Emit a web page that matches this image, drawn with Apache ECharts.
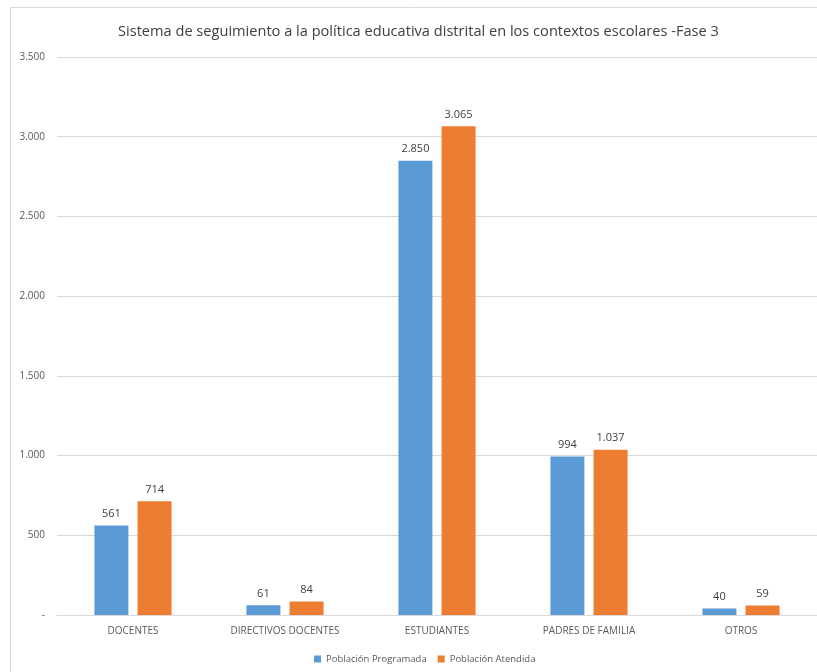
<!DOCTYPE html>
<html><head><meta charset="utf-8">
<script src="https://cdn.jsdelivr.net/npm/echarts@6/dist/echarts.min.js"></script>
<style>html,body{margin:0;padding:0;background:#fff}#c{width:817px;height:672px}</style>
</head><body><div id="c"></div>
<script>
const categories = ['DOCENTES', 'DIRECTIVOS DOCENTES', 'ESTUDIANTES', 'PADRES DE FAMILIA', 'OTROS'];
const programada = [561, 61, 2850, 994, 40];
const atendida = [714, 84, 3065, 1037, 59];
const seriesNames = ['Población Programada', 'Población Atendida'];
const titleText = 'Sistema de seguimiento a la política educativa distrital en los contextos escolares -Fase 3';

function fmt(v) {
  if (v === 0) return '-';
  return String(Math.round(v)).replace(/\B(?=(\d{3})+(?!\d))/g, '.');
}
const FONT = 'Open Sans';
const chart = echarts.init(document.getElementById('c'), null, {renderer: 'canvas'});
chart.setOption({
  animation: false,
  backgroundColor: '#fff',
  graphic: [{type: 'rect', shape: {x: 10.5, y: 7.5, width: 840, height: 700}, style: {fill: 'none', stroke: '#d9d9d9', lineWidth: 1}, z: -1}],
  title: {text: titleText, left: 113, top: 19, textStyle: {fontFamily: FONT, fontSize: 14.6, fontWeight: 'normal', color: '#404040'}},
  grid: {left: 57, right: 0, top: 57, bottom: 57, containLabel: false},
  legend: {bottom: 3, left: 309, itemWidth: 7, itemHeight: 7, itemGap: 11, icon: 'rect',
    textStyle: {fontFamily: FONT, fontSize: 9.5, color: '#595959'}, data: seriesNames},
  xAxis: {type: 'category', data: categories,
    axisLine: {lineStyle: {color: '#d9d9d9'}}, axisTick: {show: false},
    axisLabel: {fontFamily: FONT, fontSize: 10, color: '#595959', margin: 11}},
  yAxis: {type: 'value', min: 0, max: 3500, interval: 500,
    axisLine: {show: false}, axisTick: {show: false},
    splitLine: {lineStyle: {color: '#d9d9d9'}},
    axisLabel: {fontFamily: FONT, fontSize: 10, color: '#595959', margin: 12, formatter: fmt}},
  series: [
    {name: seriesNames[0], type: 'bar', data: programada, barWidth: 34, barGap: '27%',
     itemStyle: {color: '#5B9BD5'},
     label: {show: true, position: 'top', distance: 6, fontFamily: FONT, fontSize: 11, color: '#404040', formatter: p => fmt(p.value)}},
    {name: seriesNames[1], type: 'bar', data: atendida, barWidth: 34,
     itemStyle: {color: '#ED7D31'},
     label: {show: true, position: 'top', distance: 6, fontFamily: FONT, fontSize: 11, color: '#404040', formatter: p => fmt(p.value)}}
  ]
});
</script></body></html>
